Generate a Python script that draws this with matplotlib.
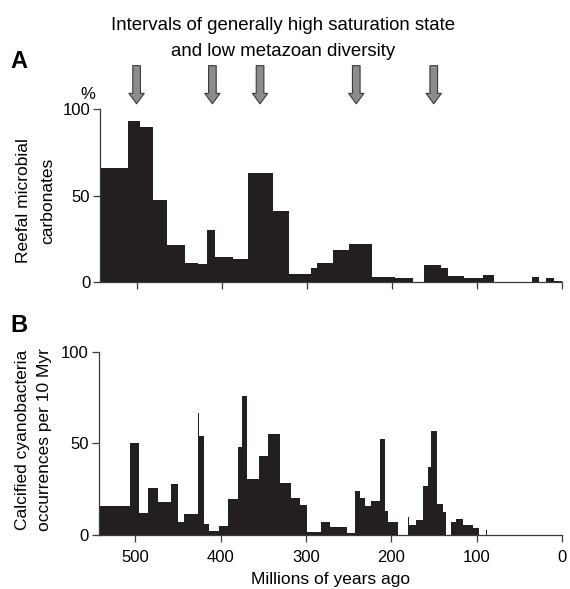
import matplotlib
matplotlib.use("Agg")
import matplotlib.pyplot as plt
import numpy as np

plt.rcParams['font.family'] = ['Liberation Sans', 'DejaVu Sans']

# Panel A: reefal microbial carbonates (%)
a_edges = [543, 510, 496, 481, 464, 443, 428, 417, 408, 387,
           369, 340, 321, 295, 288, 269, 250, 223, 196, 175,
           162, 143, 134, 115.5, 93, 80, 35.5, 27.7, 19, 10, 0]
a_values = [66, 93, 89.6, 47.5, 21.5, 11, 10.5, 30, 14.6, 13.5,
            63, 41, 5, 8.2, 11, 18.6, 22, 2.9, 2.3, 0,
            10, 8.2, 3.6, 2.3, 4.2, 0, 2.9, 0, 2.3, 0.8]

# Panel B: calcified cyanobacteria occurrences per 10 Myr
b_edges = [543, 506, 496, 485, 473, 458, 450, 443, 427, 425,
           419, 414, 402, 391, 380, 375, 369, 355, 344, 330.5,
           318, 307, 299, 282, 272, 252, 243, 237, 231, 224,
           213, 208, 204, 192, 181, 180, 171, 163, 157, 154,
           147, 140, 136.5, 130, 124, 116, 104, 98, 89, 88, 0]
b_values = [16, 50.4, 12, 25.6, 18.2, 27.8, 7.3, 11.5, 66.7, 54,
            5.8, 2.4, 4.9, 19.5, 48, 76, 30.4, 43, 55, 28.5,
            20, 16.5, 1.5, 7, 4.2, 1, 23.8, 20, 16, 18.7,
            52.4, 13, 7, 0, 10, 5.3, 8, 27, 37, 56.6,
            16.7, 12.5, 0, 7, 9, 5.3, 3.6, 0, 3, 0]

# Arrows: intervals of high saturation state (Ma)
arrow_ma = [500, 411, 355, 242, 151]

x_ticks = [500, 400, 300, 200, 100, 0]
y_ticks = [0, 50, 100]

title_lines = ['Intervals of generally high saturation state', 'and low metazoan diversity']

bar_color = '#231f20'
spine_color = '#3a3a3a'

fig = plt.figure(figsize=(5.70, 5.89), dpi=100)
W, H = 570, 589

def add_axes_px(left, right, top, bottom):
    return fig.add_axes([left / W, 1 - bottom / H, (right - left) / W, (bottom - top) / H])

axA = add_axes_px(100, 562.3, 109, 282.3)
axB = add_axes_px(98.5, 562.3, 351.7, 535)

for ax, edges, vals in [(axA, a_edges, a_values), (axB, b_edges, b_values)]:
    ax.stairs(vals, edges, fill=True, color=bar_color, linewidth=0)
    ax.set_xlim(543, 0)
    ax.set_ylim(0, 100)
    for s in ['top', 'right']:
        ax.spines[s].set_visible(False)
    for s in ['left', 'bottom']:
        ax.spines[s].set_color(spine_color)
        ax.spines[s].set_linewidth(0.9)
    ax.set_xticks(x_ticks)
    ax.set_yticks(y_ticks)
    ax.tick_params(axis='both', direction='out', length=5, width=0.9,
                   color=spine_color, labelsize=12, pad=2)
    ax.patch.set_visible(False)

axA.set_xticklabels([])
axB.set_xticklabels([str(t) for t in x_ticks])
axB.tick_params(axis='x', pad=6)

axA.set_ylabel('Reefal microbial\ncarbonates', fontsize=12.5, linespacing=1.8)
axA.yaxis.set_label_coords(-0.096, 0.47)
axB.set_ylabel('Calcified cyanobacteria\noccurrences per 10 Myr', fontsize=12.5, linespacing=1.6)
axB.yaxis.set_label_coords(-0.100, 0.518)
axB.set_xlabel('Millions of years ago', fontsize=12.5, labelpad=5)

axA.text(-0.01, 1.04, '%', transform=axA.transAxes, ha='right', va='bottom', fontsize=12)

fig.text(10 / W, 1 - 62 / H, 'A', fontsize=17, fontweight='bold', ha='left', va='center')
fig.text(10 / W, 1 - 326 / H, 'B', fontsize=17, fontweight='bold', ha='left', va='center')

fig.text(283 / W, 1 - 30 / H, title_lines[0], fontsize=13.4, ha='center', va='baseline')
fig.text(283 / W, 1 - 55.7 / H, title_lines[1], fontsize=13.4, ha='center', va='baseline')

for m in arrow_ma:
    axA.annotate('', xy=(m, 103), xytext=(m, 125), xycoords='data', textcoords='data',
                 annotation_clip=False,
                 arrowprops=dict(arrowstyle='simple,head_length=0.75,head_width=1.1,tail_width=0.55',
                                 mutation_scale=10, fc='#8c8c8c', ec='#3a3a3a', lw=0.8,
                                 shrinkA=0, shrinkB=0))

fig.savefig('out.png', dpi=100)
